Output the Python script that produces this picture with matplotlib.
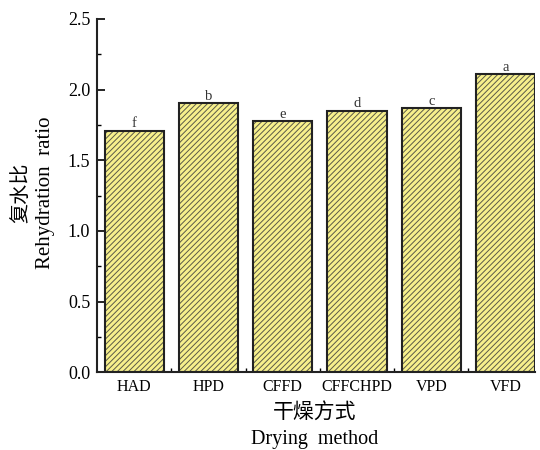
import matplotlib
matplotlib.use("Agg")
import matplotlib.pyplot as plt
from matplotlib.ticker import MultipleLocator, FixedLocator

categories = ["HAD", "HPD", "CFFD", "CFFCHPD", "VPD", "VFD"]
values = [1.71, 1.903, 1.775, 1.85, 1.868, 2.11]
letters = ["f", "b", "e", "d", "c", "a"]

serif = ["Liberation Serif", "DejaVu Serif"]
cjk = ["Noto Sans CJK SC", "DejaVu Sans"]

plt.rcParams["hatch.linewidth"] = 0.7
fig = plt.figure(figsize=(5.4, 4.5), dpi=100)
ax = fig.add_axes([0.18, 0.173, 0.811, 0.785])

x = list(range(len(categories)))
ax.bar(x, values, width=0.8, color="#f7f08c", edgecolor="#5a5a48", hatch="//////", linewidth=0, zorder=2)
ax.bar(x, values, width=0.8, fill=False, edgecolor="#222222", linewidth=1.5, zorder=3)
for xi, v, l in zip(x, values, letters):
    ax.text(xi, v + 0.003, l, ha="center", va="bottom", fontsize=10.5, family=serif, color="#333333")

ax.set_xlim(-0.5, 5.4)
ax.set_ylim(0, 2.5)
ax.set_xticks(x)
ax.set_xticklabels(categories, family=serif, fontsize=11.5)
ax.xaxis.set_minor_locator(FixedLocator([i + 0.5 for i in range(5)]))
ax.yaxis.set_minor_locator(MultipleLocator(0.25))
ax.set_yticks([0, 0.5, 1.0, 1.5, 2.0, 2.5])
ax.set_yticklabels(["0.0", "0.5", "1.0", "1.5", "2.0", "2.5"], family=serif, fontsize=13)
ax.tick_params(axis="both", which="major", direction="in", length=6, width=1.2, pad=5)
ax.tick_params(axis="both", which="minor", direction="in", length=3, width=1.0)
ax.tick_params(axis="x", which="major", length=0, pad=5)

for s in ["top", "right"]:
    ax.spines[s].set_visible(False)
for s in ["left", "bottom"]:
    ax.spines[s].set_linewidth(1.5)
    ax.spines[s].set_color("#222222")

fig.text(0.039, 0.571, "复水比", rotation=90, ha="center", va="center", family=cjk, fontsize=14.5)
fig.text(0.084, 0.571, "Rehydration  ratio", rotation=90, ha="center", va="center", family=serif, fontsize=15)
fig.text(0.582, 0.084, "干燥方式", ha="center", va="center", family=cjk, fontsize=15)
fig.text(0.582, 0.024, "Drying  method", ha="center", va="center", family=serif, fontsize=14.5)

fig.savefig("out.png", dpi=100)
